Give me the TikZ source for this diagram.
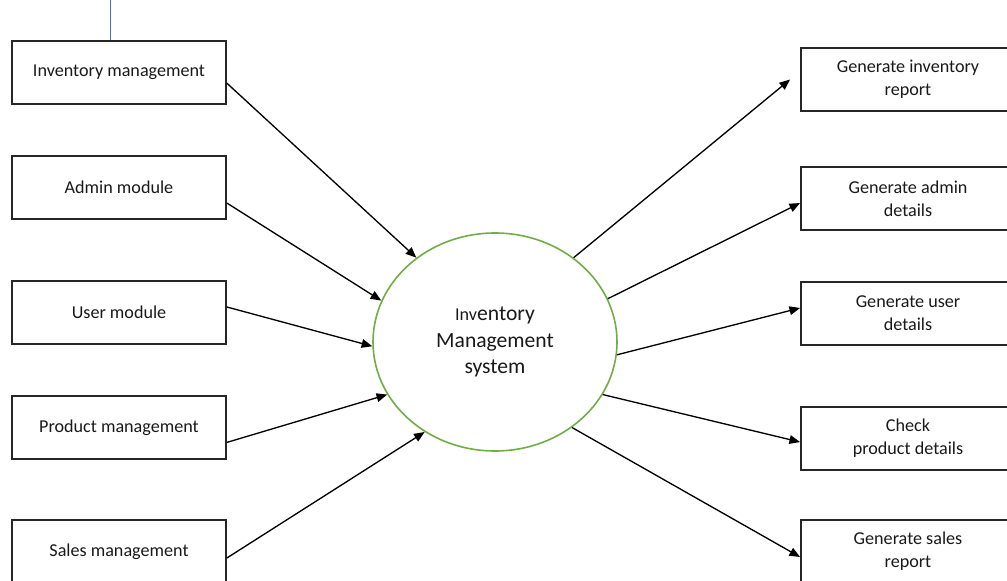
\documentclass[tikz,border=0pt]{standalone}
\usepackage{fontspec}
\setmainfont{Carlito}
\usetikzlibrary{arrows.meta, calc, shapes.geometric}
\definecolor{verde}{RGB}{112,173,71}
\definecolor{azzurro}{RGB}{68,114,196}
\tikzset{
  riquadro/.style={draw=black!85, line width=1.35pt, minimum width=160.5pt, minimum height=47.25pt, inner sep=2pt, align=center, text=black!90, font=\fontsize{13.6}{17.25}\selectfont},
  freccia/.style={line width=1pt, -{Triangle[length=8pt, width=6.5pt]}},
  sistema/.style={ellipse, draw=verde, line width=1.2pt, minimum width=183pt, minimum height=163.5pt, inner sep=0pt, align=center, text=black!90, font=\fontsize{16.2}{20}\selectfont}
}

\begin{document}
\begin{tikzpicture}[x=0.75pt, y=-0.75pt]
    % Cornice
    \useasboundingbox (0,0) rectangle (1007,581);
    % Parametri
    \pgfmathsetmacro{\sx}{119}
    \pgfmathsetmacro{\dx}{908}
    % Sistema
    \node[sistema] (sis) at (495,342) {{\fontsize{13.6}{20}\selectfont Inv}entory\\Management\\system};
    % Ingressi
    \node[riquadro] (inv) at (\sx,72.5) {Inventory management};
    \node[riquadro] (adm) at (\sx,187.5) {Admin module};
    \node[riquadro] (usr) at (\sx,312.5) {User module};
    \node[riquadro] (prd) at (\sx,427.5) {Product management};
    \node[riquadro] (vnd) at (\sx,551.5) {Sales management};
    % Uscite
    \node[riquadro] (rinv) at (\dx,79.5) {Generate inventory\\report};
    \node[riquadro] (radm) at (\dx,198.5) {Generate admin\\details};
    \node[riquadro] (rusr) at (\dx,313.5) {Generate user\\details};
    \node[riquadro] (rprd) at (\dx,438.5) {Check\\product details};
    \node[riquadro] (rvnd) at (\dx,551.5) {Generate sales\\report};
    % Linea in alto
    \coordinate (cima) at (110,0);
    \draw[azzurro, line width=0.6pt] (cima) -- (cima |- inv.north);
    % Frecce in ingresso
    \draw[freccia] ($(inv.east)!0.33!(inv.south east)$) -- (sis.133);
    \draw[freccia] ($(adm.east)!0.48!(adm.south east)$) -- (sis.160);
    \draw[freccia] ($(usr.east)!0.17!(usr.north east)$) -- (sis.182);
    \draw[freccia] ($(prd.east)!0.46!(prd.south east)$) -- (sis.206.5);
    \draw[freccia] ($(vnd.east)!0.2!(vnd.south east)$) -- (sis.232);
    % Frecce in uscita
    \draw[freccia] (sis.47) -- ([xshift=-7.5pt]rinv.west);
    \draw[freccia] (sis.21.5) -- ($(radm.west)!0.14!(radm.south west)$);
    \draw[freccia] (sis.-6.5) -- ($(rusr.west)!0.17!(rusr.north west)$);
    \draw[freccia] (sis.-26) -- ($(rprd.west)!0.11!(rprd.south west)$);
    \draw[freccia] (sis.-48.5) -- ($(rvnd.west)!0.17!(rvnd.south west)$);
\end{tikzpicture}
\end{document}
